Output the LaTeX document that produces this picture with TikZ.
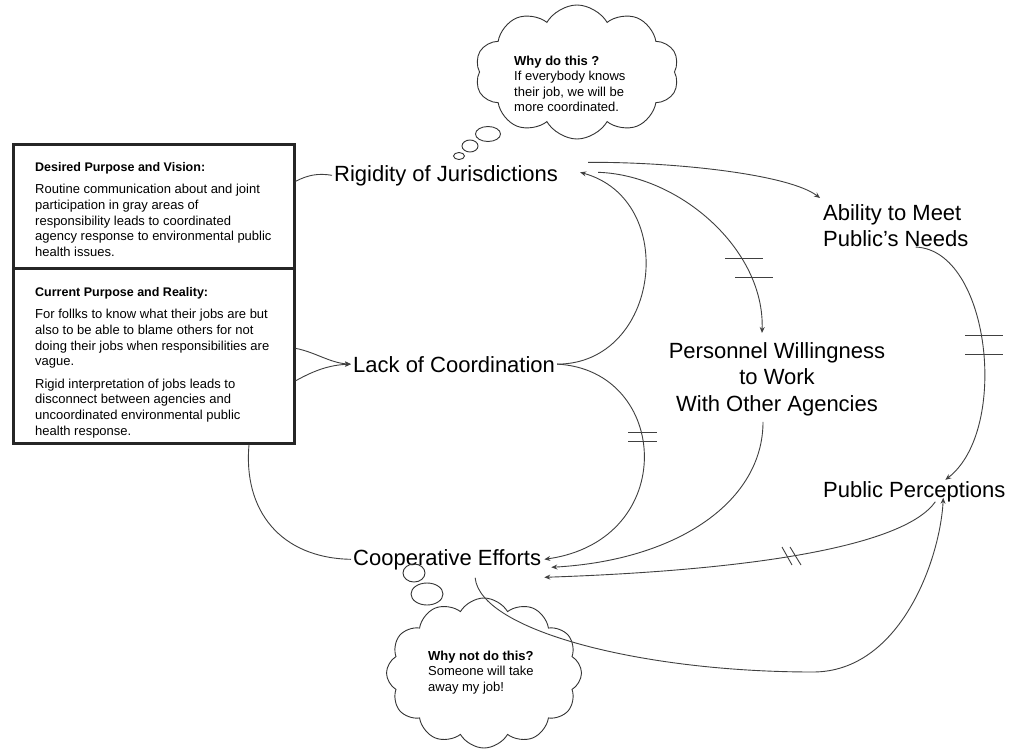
\documentclass[tikz,border=0pt]{standalone}
\usepackage{fontspec}
\setmainfont{Liberation Sans}
\usetikzlibrary{arrows.meta,shapes.symbols}
\begin{document}
\begin{tikzpicture}[x=1pt,y=-1pt,
  lbl/.style={inner sep=0pt, font=\fontsize{22}{26.5}\selectfont},
  small/.style={inner sep=0pt, align=left, anchor=north west, font=\fontsize{13}{15.6}\selectfont},
  cloudtxt/.style={inner sep=0pt, align=left, anchor=north west, font=\fontsize{13}{15.2}\selectfont},
  frame/.style={draw=black!85, line width=2.6pt, minimum width=281pt, anchor=north west, inner sep=0pt},
  conn/.style={draw=black!75, line width=0.9pt},
  arr/.style={conn, -{Stealth[length=6pt,width=5pt]}},
  hash/.style={draw=black!75, line width=0.9pt},
  puff/.style={draw=black!80, line width=0.9pt, cloud, cloud ignores aspect, cloud puffs=10, cloud puff arc=120, inner sep=0pt},
  bub/.style={draw=black!80, line width=0.9pt}
]
\useasboundingbox (0,0) rectangle (1012,749);
\fill[white] (0,0) rectangle (1012,749);

% purpose boxes
\node[frame, minimum height=124pt] (desired) at (12,143) {};
\node[frame, minimum height=175pt] (current) at (12,267) {};
\node[small] (desiredtxt) at (35,162) {{\fontsize{12.5}{15.6}\selectfont\textbf{Desired Purpose and Vision:}}\\[7pt]
  Routine communication about and joint\\ participation in gray areas of\\
  responsibility leads to coordinated\\ agency response to environmental public\\ health issues.};
\node[small] (currenttxt) at (35,287) {{\fontsize{12.5}{15.6}\selectfont\textbf{Current Purpose and Reality:}}\\[7pt]
  For follks to know what their jobs are but\\ also to be able to blame others for not\\
  doing their jobs when responsibilities are\\ vague.\\[7pt]
  Rigid interpretation of jobs leads to\\ disconnect between agencies and\\
  uncoordinated environmental public\\ health response.};

% variables
\node[lbl, anchor=base west] (rig) at (334,181) {Rigidity of Jurisdictions};
\node[lbl, anchor=base west] (lack) at (353,372) {Lack of Coordination};
\node[lbl, anchor=base west] (coop) at (353,565) {Cooperative Efforts};
\node[lbl, anchor=base west] (pub) at (823,497) {Public Perceptions};
\node[lbl, anchor=north west, align=left] (ability) at (823,204) {Ability to Meet\\Public's Needs};
\node[lbl, anchor=north, align=center] (pers) at (777,342) {Personnel Willingness\\to Work\\With Other Agencies};

% thought clouds
\node[puff, minimum width=204pt, minimum height=134pt] (cloudA) at (577,72) {};
\node[cloudtxt] (cloudAtxt) at (514,56) {\textbf{Why do this ?}\\ If everybody knows\\ their job, we will be\\ more coordinated.};
\draw[bub] (488,134) ellipse [x radius=12.5pt, y radius=7.5pt];
\draw[bub] (470,146) ellipse [x radius=8pt, y radius=6pt];
\draw[bub] (459,156) ellipse [x radius=5.5pt, y radius=3.5pt];

\node[puff, cloud puffs=12, minimum width=195pt, minimum height=150pt] (cloudB) at (484,673) {};
\node[cloudtxt] (cloudBtxt) at (428,651) {\textbf{Why not do this?}\\ Someone will take\\ away my job!};
\draw[bub] (414,573) ellipse [x radius=11pt, y radius=9pt];
\draw[bub] (427,594) ellipse [x radius=16pt, y radius=11pt];

% connectors
\draw[conn] (desired.10) .. controls (308,175) and (318,173) .. ([xshift=-2pt]rig.west);
\draw[arr] (current.3) .. controls (315,352) and (330,363) .. ([xshift=-2pt]lack.west);
\draw[arr] (current.-10) .. controls (315,370) and (330,365) .. ([xshift=-2pt]lack.west);
\draw[conn] (current.-43.4) .. controls (243,510) and (280,558) .. ([xshift=-2pt]coop.west);

\draw[arr] ([xshift=2pt]lack.east) .. controls (660,364) and (680,200) .. ([xshift=22pt,yshift=3pt]rig.east);
\draw[arr] ([xshift=40pt,yshift=3pt]rig.east) .. controls (680,175) and (765,250) .. ([xshift=-15pt,yshift=9pt]pers.north);
\draw[arr] ([xshift=30pt,yshift=13pt]rig.east) .. controls (680,162) and (790,175) .. ([xshift=-3pt,yshift=6pt]ability.north west);
\draw[arr] ([xshift=2pt]lack.east) .. controls (670,370) and (680,540) .. ([xshift=3pt]coop.east);
\draw[arr] ([xshift=-14pt,yshift=-6pt]pers.south) .. controls (763,500) and (680,560) .. ([xshift=10pt,yshift=-8pt]coop.east);
\draw[arr] ([xshift=21pt]pub.south) .. controls (905,545) and (760,570) .. ([xshift=3pt,yshift=-18pt]coop.east);
\draw[arr] ([xshift=20pt]ability.south) .. controls (990,250) and (1010,430) .. ([xshift=31pt,yshift=1pt]pub.north);
\draw[arr] ([xshift=28pt,yshift=-8pt]coop.south) .. controls (480,630) and (640,672) .. (813,672)
  .. controls (900,672) and (940,560) .. ([xshift=29pt,yshift=4pt]pub.south);

% delay marks
\draw[hash] (725,258) -- (763,258) (735,277) -- (773,277);
\draw[hash] (628,432) -- (657,432) (628,441) -- (657,441);
\draw[hash] (965,335) -- (1003,335) (965,354) -- (1003,354);
\draw[hash] (782,547) -- (792,565) (790,547) -- (801,565);
\end{tikzpicture}
\end{document}
